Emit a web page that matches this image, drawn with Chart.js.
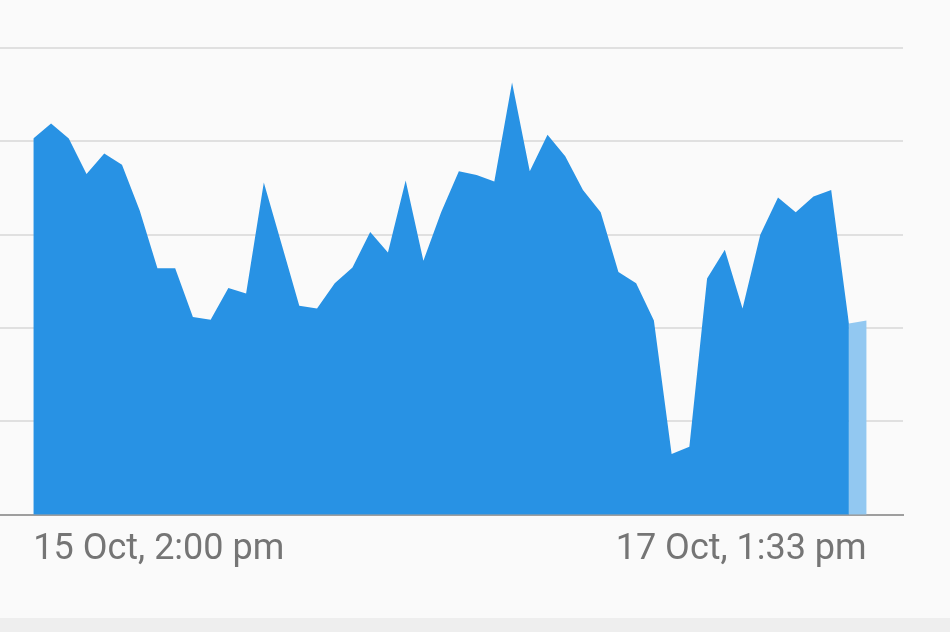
<!DOCTYPE html>
<html>
<head>
<meta charset="utf-8">
<script src="https://cdn.jsdelivr.net/npm/chart.js@4/dist/chart.umd.min.js"></script>
<style>
  html, body { margin: 0; padding: 0; background: #eeeeee; }
  #wrap { width: 950px; height: 618px; background: #fafafa; }
  canvas { display: block; }
</style>
</head>
<body>
<div id="wrap"><canvas id="chart" width="950" height="618"></canvas></div>
<script>
// valores (unidades de la rejilla, 0..5)
const valores = [
  4.03, 4.19, 4.03, 3.65, 3.87, 3.75, 3.26, 2.64, 2.64, 2.12,
  2.09, 2.43, 2.37, 3.56, 2.90, 2.24, 2.21, 2.48, 2.65, 3.03,
  2.81, 3.58, 2.72, 3.24, 3.68, 3.64, 3.57, 4.63, 3.68, 4.07,
  3.84, 3.48, 3.24, 2.60, 2.48, 2.08, 0.65, 0.73, 2.53, 2.84,
  2.21, 3.00, 3.40, 3.24, 3.41, 3.48, 2.05, 2.08
];
// el último tramo se dibuja en azul claro (periodo en curso)
const indiceParcial = valores.length - 2;
const etiquetasEje = ['15 Oct, 2:00 pm', '17 Oct, 1:33 pm'];
const posicionesEje = [0, valores.length - 1];

const serieCompleta = valores.map((v, i) => ({ x: i, y: i <= indiceParcial ? v : null }));
const serieParcial = valores.map((v, i) => ({ x: i, y: i >= indiceParcial ? v : null }));

new Chart(document.getElementById('chart'), {
  type: 'line',
  data: {
    datasets: [
      {
        data: serieParcial,
        backgroundColor: '#92c8f1',
        borderWidth: 0,
        pointRadius: 0,
        fill: 'origin',
        spanGaps: false
      },
      {
        data: serieCompleta,
        backgroundColor: '#2892e4',
        borderWidth: 0,
        pointRadius: 0,
        fill: 'origin',
        spanGaps: false
      }
    ]
  },
  options: {
    responsive: false,
    animation: false,
    layout: { padding: { left: 0, right: 47, top: 48, bottom: 32 } },
    plugins: { legend: { display: false }, tooltip: { enabled: false } },
    elements: { line: { tension: 0 } },
    scales: {
      x: {
        type: 'linear',
        min: -1.88,
        max: 49.05,
        grid: { display: false, drawTicks: false },
        border: { display: true, color: '#9e9e9e', width: 2 },
        afterBuildTicks: axis => { axis.ticks = posicionesEje.map(v => ({ value: v })); },
        ticks: {
          align: 'inner',
          padding: 14,
          color: '#757575',
          font: { family: 'Roboto', size: 36 },
          maxRotation: 0,
          autoSkip: false,
          callback: (val, idx) => etiquetasEje[idx]
        }
      },
      y: {
        min: 0,
        max: 5,
        grid: { color: '#e0e0e0', lineWidth: 2, drawTicks: false },
        border: { display: false },
        ticks: { display: false, stepSize: 1 }
      }
    }
  }
});
</script>
</body>
</html>
